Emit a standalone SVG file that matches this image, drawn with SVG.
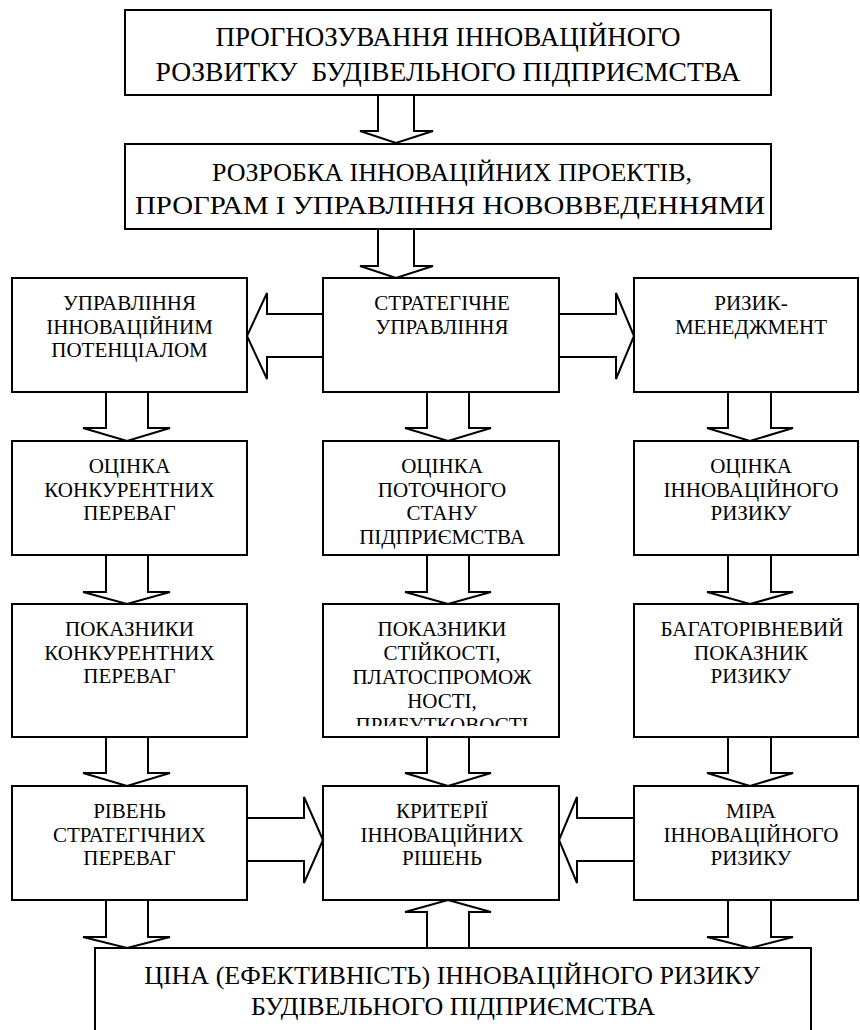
<svg xmlns="http://www.w3.org/2000/svg" width="860" height="1030" viewBox="0 0 860 1030">
<style>
.box{fill:#fff;stroke:#000;stroke-width:2}
.arr{fill:#fff;stroke:#000;stroke-width:2;stroke-linejoin:miter}
.t{font-family:'Liberation Serif',serif;font-size:21px;text-anchor:middle;fill:#000}
.b{font-family:'Liberation Serif',serif;font-size:26px;text-anchor:middle;fill:#000}
.bt{font-family:'Liberation Serif',serif;font-size:27px;text-anchor:middle;fill:#000}
</style>
<defs>
<clipPath id="clipM3"><rect x="323" y="604" width="236" height="122"/></clipPath>
</defs>
<rect width="860" height="1030" fill="#fff"/>
<g id="connectors">
<polygon class="arr" points="378,95 378,131 360,131 396,143 433,131 414,131 414,95"/>
<polygon class="arr" points="378,229 378,266 360,266 396,278 433,266 414,266 414,229"/>
<polygon class="arr" points="323,314 267,314 267,293 247,336 267,379 267,357 323,357"/>
<polygon class="arr" points="559,314 616,314 616,293 634,336 616,379 616,357 559,357"/>
<polygon class="arr" points="106,392 106,428 83,428 127,441 170,428 148,428 148,392"/>
<polygon class="arr" points="106,555 106,592 83,592 127,604 170,592 148,592 148,555"/>
<polygon class="arr" points="106,737 106,773 83,773 127,786 170,773 148,773 148,737"/>
<polygon class="arr" points="106,900 106,937 83,937 127,948 170,937 148,937 148,900"/>
<polygon class="arr" points="427,392 427,428 405,428 448,441 491,428 469,428 469,392"/>
<polygon class="arr" points="427,555 427,592 405,592 448,604 491,592 469,592 469,555"/>
<polygon class="arr" points="427,737 427,773 405,773 448,786 491,773 469,773 469,737"/>
<polygon class="arr" points="427,948 427,912 405,912 448,900 491,912 469,912 469,948"/>
<polygon class="arr" points="728,392 728,428 707,428 750,441 793,428 771,428 771,392"/>
<polygon class="arr" points="728,555 728,592 707,592 750,604 793,592 771,592 771,555"/>
<polygon class="arr" points="728,737 728,773 707,773 750,786 793,773 771,773 771,737"/>
<polygon class="arr" points="728,900 728,937 707,937 750,948 793,937 771,937 771,900"/>
<polygon class="arr" points="247,818 304,818 304,797 323,840 304,883 304,861 247,861"/>
<polygon class="arr" points="634,818 577,818 577,797 559,840 577,883 577,861 634,861"/>
</g>
<g id="n-top">
<rect class="box" x="125" y="10" width="646" height="85"/>
<text class="bt" x="448" y="46">ПРОГНОЗУВАННЯ ІННОВАЦІЙНОГО</text>
<text class="bt" x="448" y="81" xml:space="preserve" textLength="585" lengthAdjust="spacingAndGlyphs">РОЗВИТКУ  БУДІВЕЛЬНОГО ПІДПРИЄМСТВА</text>
</g>
<g id="n-dev">
<rect class="box" x="125" y="144" width="646" height="85"/>
<text class="b" x="452" y="181">РОЗРОБКА ІННОВАЦІЙНИХ ПРОЕКТІВ,</text>
<text class="b" x="450" y="214" textLength="630" lengthAdjust="spacingAndGlyphs">ПРОГРАМ І УПРАВЛІННЯ НОВОВВЕДЕННЯМИ</text>
</g>
<g id="n-l1">
<rect class="box" x="12" y="278" width="235" height="114"/>
<text class="t" x="129.5" y="310">УПРАВЛІННЯ</text>
<text class="t" x="129.5" y="333.5">ІННОВАЦІЙНИМ</text>
<text class="t" x="129.5" y="357">ПОТЕНЦІАЛОМ</text>
</g>
<g id="n-m1">
<rect class="box" x="323" y="278" width="236" height="114"/>
<text class="t" x="442" y="310">СТРАТЕГІЧНЕ</text>
<text class="t" x="442" y="333.5">УПРАВЛІННЯ</text>
</g>
<g id="n-r1">
<rect class="box" x="634" y="278" width="224" height="114"/>
<text class="t" x="751" y="310">РИЗИК-</text>
<text class="t" x="751" y="333.5">МЕНЕДЖМЕНТ</text>
</g>
<g id="n-l2">
<rect class="box" x="12" y="441" width="235" height="114"/>
<text class="t" x="129.5" y="473">ОЦІНКА</text>
<text class="t" x="129.5" y="496.5">КОНКУРЕНТНИХ</text>
<text class="t" x="129.5" y="520">ПЕРЕВАГ</text>
</g>
<g id="n-m2">
<rect class="box" x="323" y="441" width="236" height="114"/>
<text class="t" x="442" y="473">ОЦІНКА</text>
<text class="t" x="442" y="496.5">ПОТОЧНОГО</text>
<text class="t" x="442" y="520">СТАНУ</text>
<text class="t" x="442" y="543.5">ПІДПРИЄМСТВА</text>
</g>
<g id="n-r2">
<rect class="box" x="634" y="441" width="224" height="114"/>
<text class="t" x="751" y="473">ОЦІНКА</text>
<text class="t" x="751" y="496.5">ІННОВАЦІЙНОГО</text>
<text class="t" x="751" y="520">РИЗИКУ</text>
</g>
<g id="n-l3">
<rect class="box" x="12" y="604" width="235" height="133"/>
<text class="t" x="129.5" y="636">ПОКАЗНИКИ</text>
<text class="t" x="129.5" y="659.5">КОНКУРЕНТНИХ</text>
<text class="t" x="129.5" y="683">ПЕРЕВАГ</text>
</g>
<g id="n-m3">
<rect class="box" x="323" y="604" width="236" height="133"/>
<g clip-path="url(#clipM3)">
<text class="t" x="442" y="636">ПОКАЗНИКИ</text>
<text class="t" x="442" y="660">СТІЙКОСТІ,</text>
<text class="t" x="442" y="684">ПЛАТОСПРОМОЖ</text>
<text class="t" x="442" y="708">НОСТІ,</text>
<text class="t" x="442" y="732">ПРИБУТКОВОСТІ</text>
</g>
</g>
<g id="n-r3">
<rect class="box" x="634" y="604" width="224" height="133"/>
<text class="t" x="752" y="636">БАГАТОРІВНЕВИЙ</text>
<text class="t" x="751" y="659.5">ПОКАЗНИК</text>
<text class="t" x="751" y="683">РИЗИКУ</text>
</g>
<g id="n-l4">
<rect class="box" x="12" y="786" width="235" height="114"/>
<text class="t" x="129.5" y="818">РІВЕНЬ</text>
<text class="t" x="129.5" y="841.5">СТРАТЕГІЧНИХ</text>
<text class="t" x="129.5" y="865">ПЕРЕВАГ</text>
</g>
<g id="n-m4">
<rect class="box" x="323" y="786" width="236" height="114"/>
<text class="t" x="442" y="818">КРИТЕРІЇ</text>
<text class="t" x="442" y="841.5">ІННОВАЦІЙНИХ</text>
<text class="t" x="442" y="865">РІШЕНЬ</text>
</g>
<g id="n-r4">
<rect class="box" x="634" y="786" width="224" height="114"/>
<text class="t" x="751" y="818">МІРА</text>
<text class="t" x="751" y="841.5">ІННОВАЦІЙНОГО</text>
<text class="t" x="751" y="865">РИЗИКУ</text>
</g>
<g id="n-bottom">
<rect class="box" x="95" y="948" width="716" height="100"/>
<text class="b" x="452" y="984">ЦІНА (ЕФЕКТИВНІСТЬ) ІННОВАЦІЙНОГО РИЗИКУ</text>
<text class="b" x="453" y="1015">БУДІВЕЛЬНОГО ПІДПРИЄМСТВА</text>
</g>
</svg>
